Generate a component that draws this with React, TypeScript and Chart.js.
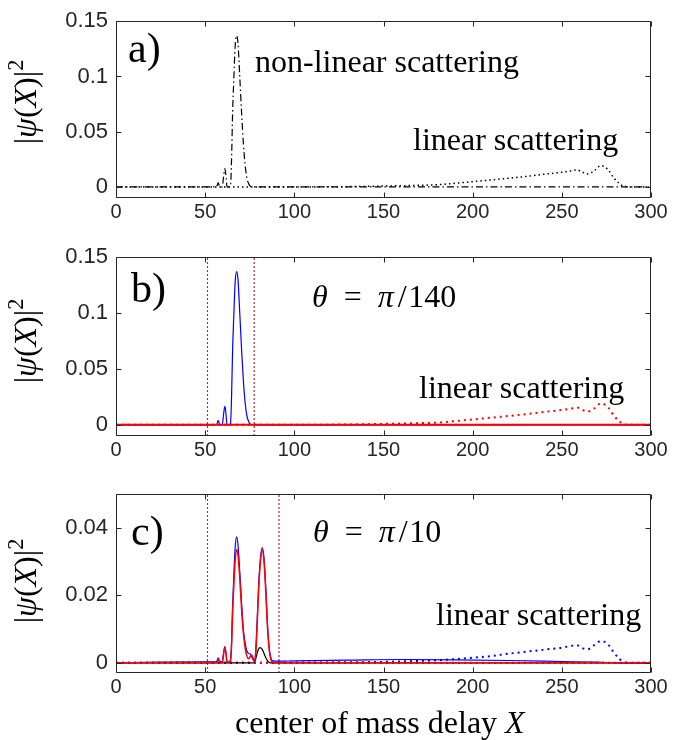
import React, { useEffect, useRef } from "react";
import { Chart, registerables } from "chart.js";

Chart.register(...registerables);

// ---------------- data ----------------
const xTicks = [0, 50, 100, 150, 200, 250, 300];
const yTicksAB = [0, 0.05, 0.1, 0.15];
const yTicksC = [0, 0.02, 0.04];
const yRangeAB = [-0.01, 0.15];
const yRangeC = [-0.003, 0.05];

// non-linear scattering (panel a dash-dot, panel b blue)
const nlX = [0, 40, 55, 56.4, 57.3, 58.2, 59.6, 60.3, 61.0, 61.6, 62.3, 63.2, 64.2, 64.8, 65.4, 66.0, 66.8, 67.6, 68.4, 69.4, 70.4, 71.4, 72.4, 73.4, 74.4, 75.5, 77, 100, 150, 200, 250, 300];
const nlY = [0, 0, 0, 0, 0.004, 0, 0, 0.009, 0.0165, 0.011, 0, 0, 0.001, 0.025, 0.068, 0.095, 0.127, 0.137, 0.13, 0.1, 0.068, 0.04, 0.02, 0.008, 0.003, 0.0005, 0, 0, 0, 0, 0, 0];

// linear scattering (panel a dotted, panel b red dotted)
const linX = [0, 100, 130, 150, 165, 180, 190, 200, 210, 220, 230, 240, 250, 255, 258.6, 261, 264.3, 268, 272, 276, 279, 282, 284.8, 290, 300];
const linY = [0, 0, 0.0003, 0.0008, 0.0013, 0.002, 0.0033, 0.0048, 0.0063, 0.0079, 0.0095, 0.0115, 0.0132, 0.0145, 0.0154, 0.0138, 0.0118, 0.0145, 0.0193, 0.0155, 0.0085, 0.0035, 0.0005, 0, 0];

// panel b: red solid
const bRedX = [0, 300];
const bRedY = [0, 0];

// panel c: blue solid
const cBlueX = [0, 25, 50, 55, 56.4, 57.3, 58.2, 59.6, 60.3, 61.0, 61.6, 62.3, 63.2, 64.2, 64.8, 65.4, 66.0, 66.8, 67.6, 68.4, 69.4, 70.4, 71.4, 72.4, 73.4, 74.4, 75.5, 76.6, 77.5, 78.4, 79.2, 80.0, 81.0, 82.0, 83.0, 84.0, 85.0, 86.0, 87.0, 88.0, 91, 100, 130, 160, 190, 220, 250, 270, 285, 300];
const cBlueY = [0, 0.0002, 0.0003, 0.0003, 0.0004, 0.0015, 0.0004, 0.0004, 0.0028, 0.0048, 0.0033, 0.0004, 0.0003, 0.0008, 0.006, 0.017, 0.025, 0.034, 0.0373, 0.035, 0.027, 0.018, 0.01, 0.006, 0.0035, 0.0028, 0.0025, 0.0012, 0.0004, 0.004, 0.013, 0.023, 0.031, 0.0341, 0.031, 0.022, 0.011, 0.004, 0.0012, 0.0006, 0.0005, 0.0006, 0.0008, 0.001, 0.0009, 0.0007, 0.0004, 0.0002, 0, 0];

// panel c: red solid
const cRedX = [0, 50, 56.4, 57.3, 58.2, 59.6, 60.3, 61.0, 61.6, 62.3, 63.2, 64.2, 64.8, 65.4, 66.0, 66.8, 67.6, 68.4, 69.4, 70.4, 71.4, 72.4, 73.4, 74.4, 75.2, 76.1, 77.0, 77.7, 78.4, 79.2, 80.0, 81.0, 82.0, 83.0, 84.0, 85.0, 86.0, 87.0, 88.0, 300];
const cRedY = [0, 0, 0, 0.0012, 0, 0, 0.0025, 0.0045, 0.003, 0, 0, 0.0006, 0.005, 0.015, 0.022, 0.03, 0.0336, 0.032, 0.025, 0.016, 0.009, 0.0045, 0.002, 0.0012, 0.0018, 0.0023, 0.0012, 0.0002, 0.003, 0.012, 0.022, 0.03, 0.0334, 0.03, 0.021, 0.01, 0.0035, 0.0008, 0, 0];

// panel c: black solid
const cBlackX = [0, 77.5, 78.5, 79.5, 80.7, 82, 83, 84, 85, 86.5, 300];
const cBlackY = [0, 0, 0.0015, 0.0035, 0.0045, 0.004, 0.0028, 0.0015, 0.0006, 0, 0];

// panel c: blue dotted (linear scattering)
const cLinX = [0, 100, 150, 170, 180, 190, 200, 210, 220, 230, 240, 245, 250, 255, 258.6, 261, 264.3, 268, 272, 276, 279, 282, 284.8, 290, 300];
const cLinY = [0, 0.0001, 0.0003, 0.0006, 0.0008, 0.0011, 0.0015, 0.002, 0.0027, 0.0033, 0.0039, 0.0042, 0.0045, 0.005, 0.0052, 0.0045, 0.004, 0.0052, 0.0065, 0.0054, 0.0032, 0.0013, 0.0003, 0, 0];

// panel c: red dotted
const cRedDotX = [0, 300];
const cRedDotY = [0, 0];

// window boundaries (vertical dotted lines)
const windowB = [51.3, 77.5];
const windowC = [51.3, 91.4];

// ---------------- styling helpers ----------------
const SERIF = "'Liberation Serif', 'Times New Roman', serif";
const SANS = "'Liberation Sans', Arial, Helvetica, sans-serif";
const AXIS = "#262626";

type Seg = { t: string; it?: boolean; sup?: boolean; gap?: number };
type TextItem = { segs: Seg[]; x: number; y: number; size: number };

function segFont(s: Seg, size: number) {
  const sz = s.sup ? size * 0.7 : size;
  return `${s.it ? "italic " : ""}${sz}px ${SERIF}`;
}
function richWidth(ctx: CanvasRenderingContext2D, segs: Seg[], size: number) {
  let w = 0;
  for (const s of segs) {
    ctx.font = segFont(s, size);
    w += ctx.measureText(s.t).width + (s.gap || 0) * size;
  }
  return w;
}
function drawRich(ctx: CanvasRenderingContext2D, segs: Seg[], x: number, y: number, size: number) {
  let cx = x;
  for (const s of segs) {
    ctx.font = segFont(s, size);
    ctx.fillText(s.t, cx, s.sup ? y - size * 0.4 : y);
    cx += ctx.measureText(s.t).width + (s.gap || 0) * size;
  }
}

const yLabelSegs: Seg[] = [
  { t: "|" },
  { t: "ψ", it: true },
  { t: "(" },
  { t: "X", it: true },
  { t: ")" },
  { t: "|" },
  { t: "2", sup: true },
];
const linearSegs: Seg[] = [{ t: "linear scattering" }];

type Series = { xs: number[]; ys: number[]; color: string; width: number; dash?: number[]; straight?: boolean };
type PanelSpec = {
  top: number;
  height: number;
  padTop: number;
  xAxisH: number;
  yMin: number;
  yMax: number;
  yTicks: number[];
  series: Series[];
  texts: TextItem[];
  yLabelY: number;
};

const boxPlugin = {
  id: "matlabBox",
  afterDatasetsDraw(chart: any) {
    const { ctx, chartArea: a, scales } = chart;
    const x = scales.x;
    const y = scales.y;
    ctx.save();
    ctx.strokeStyle = AXIS;
    ctx.lineWidth = 1;
    const L = 5;
    const l = Math.round(a.left) + 0.5;
    const r = Math.round(a.right) - 0.5;
    const t = Math.round(a.top) + 0.5;
    const b = Math.round(a.bottom) - 0.5;
    ctx.beginPath();
    ctx.rect(l, t, r - l, b - t);
    for (const tk of x.ticks) {
      const px = Math.round(x.getPixelForValue(tk.value)) + 0.5;
      ctx.moveTo(px, b);
      ctx.lineTo(px, b - L);
      ctx.moveTo(px, t);
      ctx.lineTo(px, t + L);
    }
    for (const tk of y.ticks) {
      const py = Math.round(y.getPixelForValue(tk.value)) + 0.5;
      ctx.moveTo(l, py);
      ctx.lineTo(l + L, py);
      ctx.moveTo(r, py);
      ctx.lineTo(r - L, py);
    }
    ctx.stroke();
    ctx.restore();
  },
};

function textPlugin(p: PanelSpec) {
  return {
    id: "panelTexts",
    afterDraw(chart: any) {
      const ctx: CanvasRenderingContext2D = chart.ctx;
      ctx.save();
      ctx.fillStyle = "#000";
      ctx.textBaseline = "alphabetic";
      ctx.textAlign = "left";
      for (const it of p.texts) drawRich(ctx, it.segs, it.x, it.y, it.size);
      // rotated y label
      const size = 32;
      const w = richWidth(ctx, yLabelSegs, size);
      ctx.translate(26, p.yLabelY);
      ctx.rotate(-Math.PI / 2);
      drawRich(ctx, yLabelSegs, -w / 2, size * 0.3, size);
      ctx.restore();
    },
  };
}

function makeConfig(p: PanelSpec): any {
  return {
    type: "line",
    data: {
      datasets: p.series.map((s) => ({
        data: s.xs.map((x, i) => ({ x, y: s.ys[i] })),
        borderColor: s.color,
        borderWidth: s.width,
        borderDash: s.dash || [],
        pointRadius: 0,
        fill: false,
        cubicInterpolationMode: s.straight ? "default" : "monotone",
        tension: 0,
      })),
    },
    options: {
      animation: false,
      responsive: false,
      maintainAspectRatio: false,
      events: [],
      layout: { padding: { top: p.padTop, right: 24, left: 0, bottom: 0 } },
      plugins: { legend: { display: false }, tooltip: { enabled: false } },
      scales: {
        x: {
          type: "linear",
          min: 0,
          max: 300,
          afterBuildTicks: (s: any) => {
            s.ticks = xTicks.map((v) => ({ value: v }));
          },
          afterFit: (s: any) => {
            s.height = p.xAxisH;
          },
          grid: { display: false, drawTicks: false },
          border: { display: false },
          ticks: {
            padding: 2,
            color: AXIS,
            font: { family: SANS, size: 20 },
            maxRotation: 0,
            autoSkip: false,
            callback: (v: any) => String(v),
          },
        },
        y: {
          type: "linear",
          min: p.yMin,
          max: p.yMax,
          afterBuildTicks: (s: any) => {
            s.ticks = p.yTicks.map((v) => ({ value: v }));
          },
          afterFit: (s: any) => {
            s.width = 116;
          },
          grid: { display: false, drawTicks: false },
          border: { display: false },
          ticks: {
            padding: 8,
            color: AXIS,
            font: { family: SANS, size: 22 },
            autoSkip: false,
            callback: (v: any) => String(v),
          },
        },
      },
    },
    plugins: [boxPlugin, textPlugin(p)],
  };
}

function windowSeries(xs: number[], yMin: number, yMax: number): Series[] {
  return xs.map((v) => ({ xs: [v, v], ys: [yMin, yMax], color: "rgb(175,50,50)", width: 1.2, dash: [2, 2], straight: true }));
}

function thetaSegs(den: string): Seg[] {
  return [
    { t: "θ", it: true, gap: 0.5 },
    { t: "=", gap: 0.5 },
    { t: "π", it: true, gap: 0.12 },
    { t: "/", gap: 0.05 },
    { t: den },
  ];
}

const panels: PanelSpec[] = [
  {
    top: 0,
    height: 235,
    padTop: 20,
    xAxisH: 37,
    yMin: yRangeAB[0],
    yMax: yRangeAB[1],
    yTicks: yTicksAB,
    series: [
      { xs: nlX, ys: nlY, color: "#000", width: 1.2, dash: [7, 3, 1.5, 3] },
      { xs: linX, ys: linY, color: "#000", width: 1.5, dash: [1.5, 3] },
    ],
    texts: [
      { segs: [{ t: "a)" }], x: 128, y: 62, size: 42 },
      { segs: [{ t: "non-linear scattering" }], x: 255, y: 72, size: 32 },
      { segs: linearSegs, x: 413, y: 150, size: 32 },
    ],
    yLabelY: 102,
  },
  {
    top: 235,
    height: 235,
    padTop: 22,
    xAxisH: 34,
    yMin: yRangeAB[0],
    yMax: yRangeAB[1],
    yTicks: yTicksAB,
    series: [
      { xs: bRedX, ys: bRedY, color: "#ff0000", width: 2 },
      { xs: nlX, ys: nlY, color: "#0000ff", width: 1.2 },
      { xs: linX, ys: linY, color: "#ff0000", width: 2, dash: [2, 4] },
      ...windowSeries(windowB, yRangeAB[0], yRangeAB[1]),
    ],
    texts: [
      { segs: [{ t: "b)" }], x: 131, y: 67, size: 42 },
      { segs: thetaSegs("140"), x: 312, y: 72, size: 32 },
      { segs: linearSegs, x: 419, y: 163, size: 32 },
    ],
    yLabelY: 106,
  },
  {
    top: 470,
    height: 270,
    padTop: 24,
    xAxisH: 67,
    yMin: yRangeC[0],
    yMax: yRangeC[1],
    yTicks: yTicksC,
    series: [
      { xs: cRedX, ys: cRedY, color: "#ff0000", width: 1.5 },
      { xs: cBlueX, ys: cBlueY, color: "#0000ff", width: 1.2 },
      { xs: cBlackX, ys: cBlackY, color: "#000", width: 1.2 },
      { xs: cRedDotX, ys: cRedDotY, color: "#ff0000", width: 2, dash: [2, 4] },
      { xs: cLinX, ys: cLinY, color: "#0000ff", width: 2, dash: [2, 4] },
      ...windowSeries(windowC, yRangeC[0], yRangeC[1]),
    ],
    texts: [
      { segs: [{ t: "c)" }], x: 131, y: 75, size: 42 },
      { segs: thetaSegs("10"), x: 313, y: 72, size: 32 },
      { segs: linearSegs, x: 436, y: 155, size: 32 },
      { segs: [{ t: "center of mass delay " }, { t: "X", it: true }], x: 235, y: 263, size: 32 },
    ],
    yLabelY: 111,
  },
];

function Panel({ spec }: { spec: PanelSpec }) {
  const ref = useRef<HTMLCanvasElement>(null);
  useEffect(() => {
    const chart = new Chart(ref.current as HTMLCanvasElement, makeConfig(spec));
    return () => chart.destroy();
  }, [spec]);
  return (
    <canvas
      ref={ref}
      width={675}
      height={spec.height}
      style={{ position: "absolute", left: 0, top: spec.top, width: 675, height: spec.height, display: "block" }}
    />
  );
}

export default function App() {
  return (
    <div style={{ position: "absolute", left: 0, top: 0, width: 675, height: 740, background: "#fff" }}>
      {panels.map((p, i) => (
        <Panel key={i} spec={p} />
      ))}
    </div>
  );
}
